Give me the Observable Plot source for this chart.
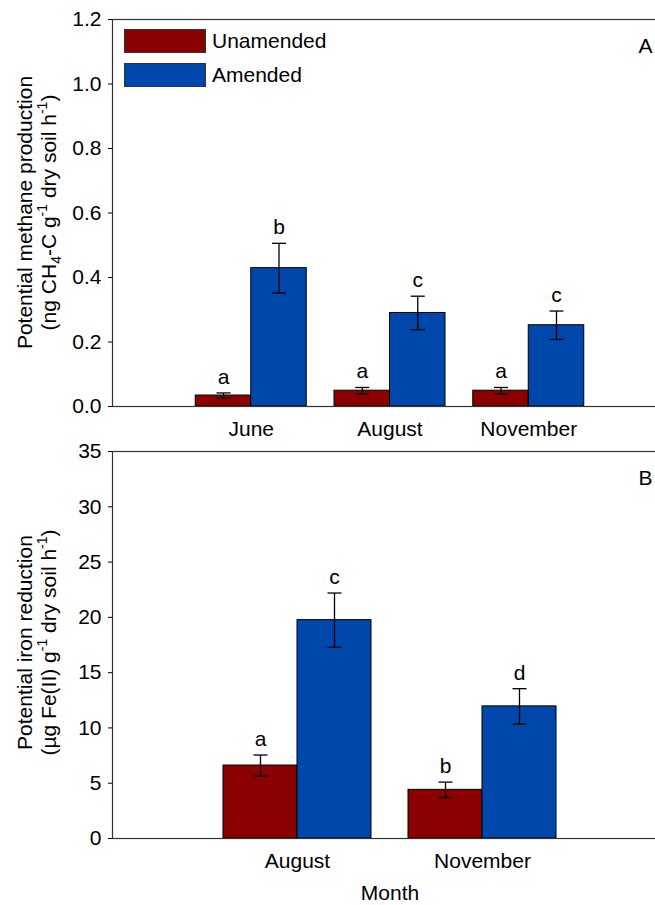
<!DOCTYPE html>
<html><head><meta charset="utf-8">
<script src="https://cdn.jsdelivr.net/npm/d3@7"></script>
<script src="https://cdn.jsdelivr.net/npm/@observablehq/plot@0.6"></script>
<style>
html,body{margin:0;padding:0;background:#fff;overflow:hidden;}
#wrap{position:relative;width:655px;height:905px;overflow:hidden;font-family:"Liberation Sans",Arial,sans-serif;background:#fff;}
#wrap svg{display:block;max-width:none !important;flex:none;}
.legend{position:absolute;left:124px;top:0;font-size:21px;color:#000;}
.item{position:absolute;left:0;height:24px;display:flex;align-items:center;white-space:nowrap;}
.sw{width:82px;height:24px;box-sizing:border-box;border:1px solid #333;margin-right:6px;flex:none;}
</style>
</head><body>
<div id="wrap"></div>
<script>
// ---- data ----
const treatments = ["Unamended", "Amended"];
const colors = ["#8B0000", "#0047AB"];

const methaneMonths = ["June", "August", "November"];
const methaneUnamended = [0.034, 0.049, 0.049];
const methaneUnamendedSE = [0.008, 0.010, 0.010];
const methaneUnamendedLetters = ["a", "a", "a"];
const methaneAmended = [0.429, 0.290, 0.252];
const methaneAmendedSE = [0.077, 0.052, 0.044];
const methaneAmendedLetters = ["b", "c", "c"];
const methaneYTicks = [0, 0.2, 0.4, 0.6, 0.8, 1.0, 1.2];

const ironMonths = ["August", "November"];
const ironUnamended = [6.6, 4.4];
const ironUnamendedSE = [0.95, 0.70];
const ironUnamendedLetters = ["a", "b"];
const ironAmended = [19.75, 11.95];
const ironAmendedSE = [2.45, 1.6];
const ironAmendedLetters = ["c", "d"];
const ironYTicks = [0, 5, 10, 15, 20, 25, 30, 35];

function rows(months, un, unSE, unL, am, amSE, amL) {
  const out = [];
  months.forEach((m, i) => {
    out.push({month: m, pos: i + 1, treatment: treatments[0], value: un[i], se: unSE[i], letter: unL[i]});
    out.push({month: m, pos: i + 1, treatment: treatments[1], value: am[i], se: amSE[i], letter: amL[i]});
  });
  return out;
}

const FONT = '"Liberation Sans", Arial, sans-serif';

function panel({data, months, yMax, yTicks, yFormat, height, marginTop, marginBottom, tag, xLabel}) {
  const W = 680, ml = 112, mr = 13;
  const xMax = months.length + 1;
  const pxPerUnit = (W - ml - mr) / xMax;
  const half = 0.4;
  const cap = 7 / pxPerUnit;
  const x1 = d => d.pos + (d.treatment === treatments[0] ? -half : 0);
  const xc = d => x1(d) + half / 2;
  const marks = [
    Plot.rect(data, {x1, x2: d => x1(d) + half, y1: 0, y2: "value", fill: "treatment", stroke: "#000", strokeWidth: 1}),
    Plot.link(data, {x1: xc, x2: xc, y1: d => d.value - d.se, y2: d => d.value + d.se, stroke: "#000", strokeWidth: 1.3}),
    Plot.link(data, {x1: d => xc(d) - cap, x2: d => xc(d) + cap, y1: d => d.value + d.se, y2: d => d.value + d.se, stroke: "#000", strokeWidth: 1.3}),
    Plot.link(data, {x1: d => xc(d) - cap, x2: d => xc(d) + cap, y1: d => d.value - d.se, y2: d => d.value - d.se, stroke: "#000", strokeWidth: 1.3}),
    Plot.text(data, {x: xc, y: d => d.value + d.se, text: "letter", lineAnchor: "bottom", dy: -9, fontSize: 21, fill: "#000"}),
    Plot.frame({stroke: "#333", strokeWidth: 1.2}),
    Plot.axisY({ticks: yTicks, tickFormat: yFormat, tickSize: 4, tickPadding: 7, label: null, fontSize: 21}),
    Plot.axisX({ticks: months.map((m, i) => i + 1), tickFormat: d => months[d - 1], tickSize: 0, tickPadding: 15, label: null, fontSize: 21}),
    Plot.text([tag], {frameAnchor: "top-right", dx: -15, dy: 33, textAnchor: "end", lineAnchor: "bottom", fontSize: 21, fill: "#000"})
  ];
  if (xLabel) marks.push(Plot.text([xLabel], {frameAnchor: "bottom", dy: 54.5, lineAnchor: "middle", fontSize: 21, fill: "#000"}));
  const svg = Plot.plot({
    width: W, height, marginLeft: ml, marginRight: mr, marginTop, marginBottom,
    style: {fontFamily: FONT, fontSize: "21px", color: "#000", background: "transparent", maxWidth: "none"},
    x: {domain: [0, xMax]},
    y: {domain: [0, yMax]},
    color: {domain: treatments, range: colors},
    marks
  });
  svg.style.maxWidth = "none";
  svg.style.width = W + "px";
  svg.style.height = height + "px";
  return svg;
}

function addYTitle(svg, cy, line1, parts2) {
  const g = d3.select(svg).append("g").attr("font-family", FONT).attr("font-size", 21).attr("fill", "#000");
  g.append("text").attr("transform", `translate(32,${cy}) rotate(-90)`).attr("text-anchor", "middle").text(line1);
  const t = g.append("text").attr("transform", `translate(56,${cy}) rotate(-90)`).attr("text-anchor", "middle");
  let shift = 0;
  parts2.forEach(([s, kind]) => {
    const target = kind === "sub" ? 5 : kind === "sup" ? -9 : 0;
    const ts = t.append("tspan").attr("dy", target - shift).text(s);
    if (kind) ts.attr("font-size", 14);
    shift = target;
  });
}

const wrapEl = document.getElementById("wrap");

const methaneChart = panel({
  data: rows(methaneMonths, methaneUnamended, methaneUnamendedSE, methaneUnamendedLetters, methaneAmended, methaneAmendedSE, methaneAmendedLetters),
  months: methaneMonths, yMax: 1.2, yTicks: methaneYTicks, yFormat: d3.format(".1f"),
  height: 440, marginTop: 19, marginBottom: 34, tag: "A"
});
addYTitle(methaneChart, 212.5, "Potential methane production",
  [["(ng CH"], ["4", "sub"], ["-C g"], ["-1", "sup"], [" dry soil h"], ["-1", "sup"], [")"]]);
wrapEl.appendChild(methaneChart);

const ironChart = panel({
  data: rows(ironMonths, ironUnamended, ironUnamendedSE, ironUnamendedLetters, ironAmended, ironAmendedSE, ironAmendedLetters),
  months: ironMonths, yMax: 35, yTicks: ironYTicks, yFormat: d3.format("d"),
  height: 465, marginTop: 11, marginBottom: 67, tag: "B", xLabel: "Month"
});
addYTitle(ironChart, 202.5, "Potential iron reduction",
  [["(\u00B5g Fe(II) g"], ["-1", "sup"], [" dry soil h"], ["-1", "sup"], [")"]]);
wrapEl.appendChild(ironChart);

// legend
const legendEl = document.createElement("div");
legendEl.className = "legend";
treatments.forEach((name, i) => {
  const item = document.createElement("div");
  item.className = "item";
  item.style.top = (29 + i * 34) + "px";
  const sw = document.createElement("span");
  sw.className = "sw";
  sw.style.background = colors[i];
  const lab = document.createElement("span");
  lab.textContent = name;
  item.appendChild(sw);
  item.appendChild(lab);
  legendEl.appendChild(item);
});
wrapEl.appendChild(legendEl);
</script>
</body></html>
